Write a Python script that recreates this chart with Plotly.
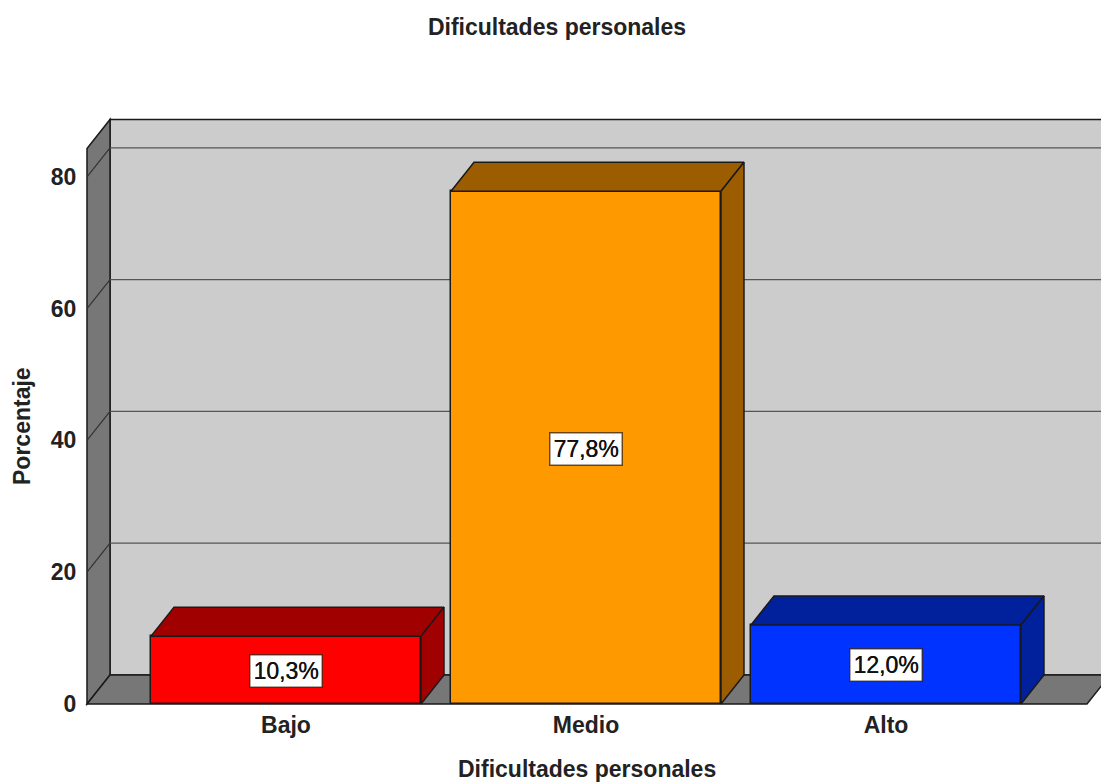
import plotly.graph_objects as go

categories = ["Bajo", "Medio", "Alto"]
values = [10.3, 77.8, 12.0]
value_labels = ["10,3%", "77,8%", "12,0%"]
front_colors = ["#ff0000", "#ff9900", "#0033ff"]
shade_colors = ["#a00000", "#9c5d00", "#00209c"]
y_ticks = [0, 20, 40, 60, 80]

title_text = "Dificultades personales"
x_title = "Dificultades personales"
y_title = "Porcentaje"

FONT = "Liberation Sans"
EDGE = "#1a1a1a"
BAR_W = 0.9
DX = 23 / 300
DY = 29 / 6.59
X0 = -199 / 300
X1 = 2.67
XR = 2.7167
TOP = 84.3
W, H = 1101, 782
ML, MT, MB = 85, 100, 76


def px(x):
    return (x - ML) / (W - ML)


def py(y):
    return (H - MB - y) / (H - MT - MB)


fig = go.Figure()
shapes = []


def poly(xs, ys, fill, lw=1.5, color=EDGE):
    path = "M " + " L ".join(f"{a},{b}" for a, b in zip(xs, ys)) + " Z"
    shapes.append(dict(type="path", path=path, xref="x", yref="y", fillcolor=fill,
                       line=dict(color=color, width=lw), layer="below"))


# back wall, left wall, floor
poly([X0 + DX, X1 + DX + 0.1, X1 + DX + 0.1, X0 + DX],
     [DY, DY, TOP + DY, TOP + DY], "#cccccc")
poly([X0, X0 + DX, X0 + DX, X0], [0, DY, TOP + DY, TOP], "#777777")
poly([X0, X1, X1 + DX, X0 + DX], [0, 0, DY, DY], "#777777")
# gridlines on both walls
for t in y_ticks[1:]:
    shapes.append(dict(type="line", xref="x", yref="y", x0=X0 + DX, x1=X1 + DX + 0.1,
                       y0=t + DY, y1=t + DY, line=dict(color="#555555", width=1.2), layer="below"))
    shapes.append(dict(type="line", xref="x", yref="y", x0=X0, x1=X0 + DX,
                       y0=t, y1=t + DY, line=dict(color="#333333", width=1.2), layer="below"))

# front faces
fig.add_trace(go.Bar(x=list(range(len(categories))), y=values, width=BAR_W,
                     marker=dict(color=front_colors, line=dict(color=EDGE, width=1.5)),
                     hoverinfo="skip", showlegend=False))

# side and top faces derived from the values
for i, v in enumerate(values):
    l, r = i - BAR_W / 2, i + BAR_W / 2
    for xs, ys in (([l, r, r + DX, l + DX, l], [v, v, v + DY, v + DY, v]),
                   ([r, r + DX, r + DX, r, r], [0, DY, v + DY, v, 0])):
        fig.add_trace(go.Scatter(x=xs, y=ys, mode="lines", fill="toself",
                                 fillcolor=shade_colors[i], line=dict(color=EDGE, width=1.5),
                                 hoverinfo="skip", showlegend=False))

annotations = [
    dict(x=i, y=v / 2, xref="x", yref="y", yshift=-1, text=lab, showarrow=False,
         font=dict(family=FONT, size=23, color="#111111", shadow="0.4px 0 0 #111111"),
         bgcolor="#ffffff", bordercolor="rgba(40,20,0,0.7)", borderwidth=1.5, width=69, height=29)
    for i, (v, lab) in enumerate(zip(values, value_labels))
]
bold = dict(family=FONT, size=23, color="#222222", weight="bold")
annotations += [
    dict(x=px(587), y=py(769), xref="paper", yref="paper", xanchor="center", yanchor="middle",
         text=x_title, showarrow=False, font=bold),
    dict(x=px(22), y=py(426), xref="paper", yref="paper", xanchor="center", yanchor="middle",
         text=y_title, showarrow=False, textangle=-90, font=bold),
]

fig.update_layout(
    width=W, height=H, autosize=False,
    margin=dict(l=ML, r=0, t=MT, b=MB),
    paper_bgcolor="#ffffff", plot_bgcolor="#ffffff",
    title=dict(text=title_text, x=557 / W, xanchor="center", xref="container",
               y=1 - 27 / H, yanchor="middle", yref="container", font=bold),
    xaxis=dict(range=[-201 / 300, XR], tickvals=list(range(len(categories))), ticktext=categories,
               showgrid=False, zeroline=False, showline=False, ticks="", ticklabelstandoff=3,
               tickfont=bold),
    yaxis=dict(range=[-0.3, 91.65], tickvals=y_ticks, showgrid=False, zeroline=False, showline=False,
               ticks="outside", ticklen=3, tickcolor="rgba(0,0,0,0)", tickfont=bold),
    shapes=shapes, annotations=annotations, bargap=0,
)

fig.write_html("out.html", config={"displayModeBar": False},
               post_script="document.body.style.margin='0';document.body.style.overflow='hidden';window.dispatchEvent(new Event('resize'));")
